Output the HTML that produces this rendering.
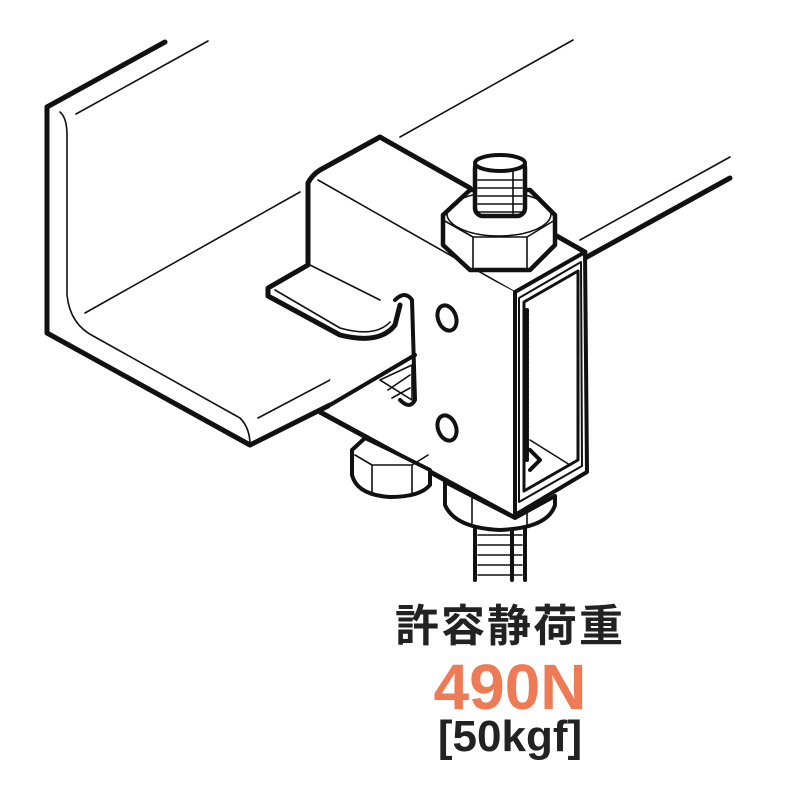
<!DOCTYPE html>
<html><head><meta charset="utf-8"><style>
html,body{margin:0;padding:0;background:#fff;width:800px;height:800px;overflow:hidden}
svg{position:absolute;left:0;top:0}
.t{position:absolute;left:0;width:1020px;text-align:center;font-family:"Liberation Sans","Noto Sans CJK JP",sans-serif;font-weight:bold;line-height:1}
</style></head><body>
<svg width="800" height="800" viewBox="0 0 800 800" fill="none" stroke="#111" stroke-linejoin="round" stroke-linecap="round">
<!-- angle beam -->
<g fill="#fff">
<path d="M47,107 L170,40 L215,40 L400,137 L573,40 L740,40 L730,160 L730,178 L250,445 L47,333 Z" stroke="none"/>
</g>
<path d="M47,107 L165,42" stroke-width="5"/>
<path d="M76,114 L208,41" stroke-width="1.6"/>
<path d="M47,107 L47,333 L250,445 L330,405" stroke-width="5"/>
<path d="M60,112 Q67,118 67,135 L67,295 Q70,325 95,337 L240,418 Q250,428 250,445" stroke-width="1.6"/>
<path d="M85,313 L300,192" stroke-width="1.6"/>
<path d="M258,418 L330,380" stroke-width="1.6"/>
<path d="M400,137 L573,40" stroke-width="1.6"/>
<path d="M580,240 L730,157" stroke-width="1.6"/>
<path d="M585,258 L730,178" stroke-width="5"/>
<!-- bracket top face -->
<path d="M308,183 L380,137 L585,252 L515,292 Z" fill="#fff" stroke="none"/>
<path d="M318,180 L515,292" stroke-width="1.6"/>
<path d="M308,183 Q312,175 320,170 L380,137 L470,188" stroke-width="5"/>
<path d="M555,235 L585,252" stroke-width="5"/>
<!-- front face -->
<path d="M308,183 L515,292 L515,517 L330,410 L330,380 L390,348 L415,338 L415,300 Q405,290 395,300 Q395,320 380,328 L350,335 L268,292 L268,288 L308,265 Z" fill="#fff" stroke="none"/>
<path d="M308,183 L308,265 L268,288 L268,296 L340,335 Q380,345 395,325 L400,305" stroke-width="5"/>
<path d="M275,290 L340,328 Q375,338 390,322" stroke-width="1.6"/>
<path d="M310,265 L380,300" stroke-width="1.6"/>
<path d="M395,300 Q405,290 412,300 L415,400 Q410,410 400,400" stroke-width="4"/>
<path d="M330,405 L415,355" stroke-width="4"/>
<path d="M380,380 L412,365 L412,400 Z" stroke-width="1.6"/>
<path d="M388,390 L410,375 M392,398 L410,388" stroke-width="1.6"/>
<path d="M320,412 L515,518" stroke-width="5"/>
<path d="M515,292 L515,518" stroke-width="3"/>
<ellipse cx="447" cy="318" rx="9" ry="13" transform="rotate(-20 447 318)" stroke-width="4"/>
<ellipse cx="447" cy="428" rx="9" ry="13" transform="rotate(-20 447 428)" stroke-width="4"/>
<!-- right face frame -->
<path d="M515,292 L585,252 L587,472 L515,515 Z" fill="#fff" stroke-width="4"/>
<path d="M519,298 L581,262 L582,466 L519,502 Z" stroke-width="2"/>
<path d="M524,302 L578,271 L578,460 L524,491 Z" stroke-width="3"/>
<path d="M527,310 L527,460" stroke-width="4" stroke-dasharray="2 2"/>
<path d="M530,450 L540,460 L530,470" stroke-width="4"/>
<path d="M530,440 L570,465" stroke-width="1.6"/>
<!-- top nut -->
<path d="M443,215 L470,190 L530,190 L555,215 L555,245 L530,270 L470,270 L443,245 Z" fill="#fff" stroke-width="4.5"/>
<path d="M443,220 L473,237 L527,237 L555,220 M473,237 L473,268 M527,237 L527,268" stroke-width="1.6"/>
<ellipse cx="499" cy="214" rx="52" ry="22" stroke-width="1.6"/>
<rect x="475" y="160" width="50" height="56" rx="8" fill="#fff" stroke-width="4.5"/>
<ellipse cx="500" cy="163" rx="25" ry="8" fill="#fff" stroke-width="4"/>
<path d="M478,180 H522 M478,188 H522 M478,196 H522 M478,204 H522 M478,212 H522 M513,172 V215" stroke-width="1.6"/>
<!-- lower left nut -->
<path d="M352,450 L365,438 L390,450 L430,470 L430,485 Q420,497 390,497 Q357,495 352,475 Z" fill="#fff" stroke-width="4"/>
<path d="M355,455 L372,465 L412,465 L428,455 M372,465 L372,493 M412,465 L412,495" stroke-width="1.6"/>
<!-- lower stud -->
<rect x="475" y="525" width="50" height="56" fill="#fff" stroke="none"/>
<path d="M475,525 V580 M525,525 V580 M512,525 V580" stroke-width="4"/>
<path d="M478,535 H522 M478,545 H522 M478,555 H522 M478,565 H522 M478,575 H522" stroke-width="1.6"/>
<!-- lower big nut -->
<path d="M445,482 L445,505 Q455,528 500,530 Q548,528 555,505 L555,496 L515,518 Z" fill="#fff" stroke-width="4"/>
<path d="M472,498 V525 M527,512 V527" stroke-width="1.6"/>
</svg>
<div class="t" style="top:605px;font-size:44px;color:#222;letter-spacing:2px">許容静荷重</div>
<div class="t" style="top:655px;font-size:64px;color:#ee7b55">490N</div>
<div class="t" style="top:715px;font-size:44px;color:#222">[50kgf]</div>
</body></html>
